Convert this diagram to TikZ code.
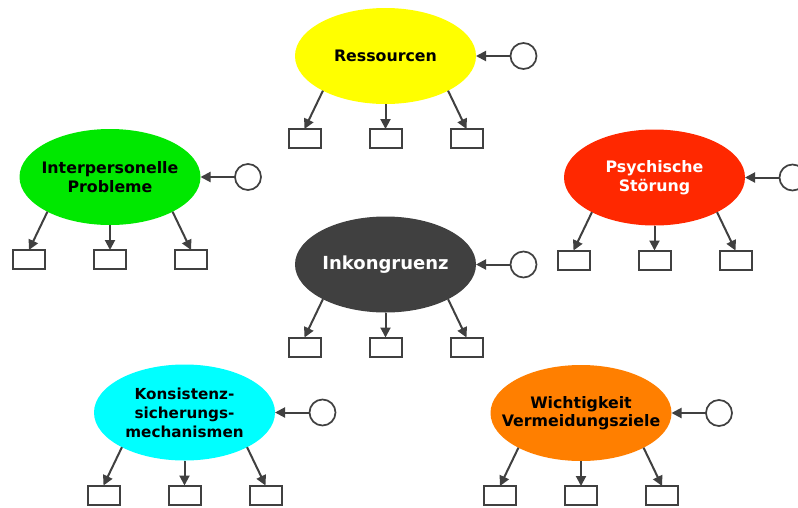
\documentclass[tikz,border=0pt]{standalone}
\usepackage{fontspec}
\setmainfont{DejaVu Sans}
\usetikzlibrary{arrows.meta,shapes.geometric}

\definecolor{linegray}{HTML}{404040}
\definecolor{topicyellow}{HTML}{FFFF00}
\definecolor{topicgreen}{HTML}{00E800}
\definecolor{topicred}{HTML}{FF2800}
\definecolor{topicdark}{HTML}{404040}
\definecolor{topiccyan}{HTML}{00FFFF}
\definecolor{topicorange}{HTML}{FF7F00}

\tikzset{
  topic/.style={ellipse, minimum width=181pt, minimum height=96pt,
    inner sep=0pt, outer sep=0pt},
  topictext/.style={inner sep=0pt, align=center,
    font=\bfseries\fontsize{15.8}{18.5}\selectfont},
  leaf/.style={draw=linegray, line width=2pt, fill=white,
    minimum width=32pt, minimum height=19pt, inner sep=0pt, outer sep=0pt},
  source/.style={circle, draw=linegray, line width=1.7pt, fill=white,
    minimum size=26pt, inner sep=0pt, outer sep=0pt},
  link/.style={draw=linegray, line width=2pt,
    -{Triangle[length=10pt,width=10pt]}},
}

% One topic: ellipse with its label, input circle on the right,
% three leaf boxes below.
% #1 name, #2 centre, #3 fill, #4 text colour, #5 extra font, #6 label
\newcommand\topicgroup[6]{%
  \node[topic, fill=#3] (#1) at #2 {};
  \node[topictext, text=#4, #5] (#1t) at (#1.center) {#6};
  \path (#1.center) ++(138,0) node[source] (#1c) {};
  \path (#1.center) ++(-81,82.5) node[leaf] (#1l) {};
  \path (#1.center) ++(0,82.5) node[leaf] (#1m) {};
  \path (#1.center) ++(81,82.5) node[leaf] (#1r) {};
  \draw[link] (#1c.west) -- (#1.east);
  \draw[link] (#1.209) -- (#1l.north);
  \draw[link] (#1.south) -- (#1m.north);
  \draw[link] (#1.331) -- (#1r.north);
}

\begin{document}
\begin{tikzpicture}[x=1pt, y=-1pt]
  \clip (0,0) rectangle (798,507);
  \fill[white] (0,0) rectangle (798,507);

  \topicgroup{res}{(385.5,56)}{topicyellow}{black}{}{Ressourcen}
  \topicgroup{inter}{(110,177)}{topicgreen}{black}{}{Interpersonelle\\Probleme}
  \topicgroup{psych}{(654.5,177.5)}{topicred}{white}{}{Psychische\\Störung}
  \topicgroup{inkon}{(385.5,264.5)}{topicdark}{white}{font=\bfseries\fontsize{18}{21}\selectfont}{Inkongruenz}
  \topicgroup{konsis}{(184.5,412.5)}{topiccyan}{black}{font=\bfseries\fontsize{15.2}{19}\selectfont}{Konsistenz-\\sicherungs-\\mechanismen}
  \topicgroup{wicht}{(581,413)}{topicorange}{black}{}{Wichtigkeit\\Vermeidungsziele}
\end{tikzpicture}
\end{document}
